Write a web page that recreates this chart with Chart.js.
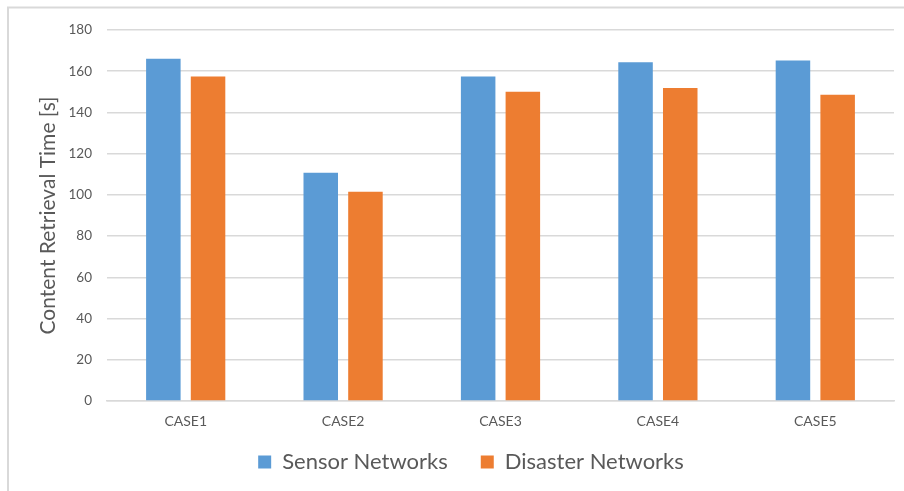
<!DOCTYPE html>
<html>
<head>
<meta charset="utf-8">
<script src="https://cdn.jsdelivr.net/npm/chart.js@4.4.1/dist/chart.umd.min.js"></script>
<style>
  html, body { margin: 0; padding: 0; background: #ffffff; }
  #wrap { width: 904px; height: 491px; position: relative; }
</style>
</head>
<body>
<div id="wrap"><canvas id="chart" width="904" height="491"></canvas></div>
<script>
// Chart data
const categories = ['CASE1', 'CASE2', 'CASE3', 'CASE4', 'CASE5'];
const sensorNetworks = [166, 110.7, 157.4, 164.3, 165.2];
const disasterNetworks = [157.5, 101.5, 150, 151.9, 148.6];
const seriesNames = ['Sensor Networks', 'Disaster Networks'];
const yTitle = 'Content Retrieval Time [s]';

const TEXT = '#595959';
const GRID = '#d9d9d9';
const FONT = 'Lato, "Open Sans", sans-serif';
const LEGEND_PAD = 33;
const LEGEND_FONT = 22;

// light frame around the chart on its left and top edges
const framePlugin = {
  id: 'frame',
  beforeDraw(chart) {
    const ctx = chart.ctx;
    ctx.save();
    ctx.fillStyle = '#ffffff';
    ctx.fillRect(0, 0, chart.width, chart.height);
    ctx.strokeStyle = GRID;
    ctx.lineWidth = 2;
    ctx.beginPath();
    ctx.moveTo(8, chart.height);
    ctx.lineTo(8, 7.5);
    ctx.lineTo(chart.width, 7.5);
    ctx.stroke();
    ctx.restore();
  }
};

// pull the legend row up, closer to the category labels
const legendShift = {
  id: 'legendShift',
  afterLayout(chart) {
    const lg = chart.legend;
    if (!lg) return;
    const wantedTop = 462 - LEGEND_PAD - LEGEND_FONT / 2;
    const dy = lg.top - wantedTop;
    lg.top -= dy;
    lg.bottom -= dy;
  }
};

new Chart(document.getElementById('chart'), {
  type: 'bar',
  data: {
    labels: categories,
    datasets: [
      { label: seriesNames[0], data: sensorNetworks, backgroundColor: '#5b9bd5' },
      { label: seriesNames[1], data: disasterNetworks, backgroundColor: '#ed7d31' }
    ]
  },
  options: {
    responsive: false,
    animation: false,
    events: [],
    categoryPercentage: 0.568,
    barPercentage: 0.772,
    layout: { padding: { left: 48, right: 10, top: 30, bottom: -6 } },
    scales: {
      x: {
        grid: { display: false, drawTicks: false },
        border: { display: true, color: GRID, width: 1.5 },
        ticks: { color: TEXT, font: { family: FONT, size: 14 }, padding: 12 },
        afterFit(scale) { scale.height = 31; }
      },
      y: {
        min: 0,
        max: 180,
        grid: { color: GRID, lineWidth: 1.5, drawTicks: false },
        border: { display: false },
        ticks: { stepSize: 20, color: TEXT, font: { family: FONT, size: 13.5 }, padding: 15 },
        title: {
          display: true,
          text: yTitle,
          color: TEXT,
          font: { family: FONT, size: 21 },
          padding: { top: -12, bottom: 0 }
        },
        afterFit(scale) { scale.width = 59; }
      }
    },
    plugins: {
      legend: {
        position: 'bottom',
        labels: {
          color: TEXT,
          font: { family: FONT, size: LEGEND_FONT },
          boxWidth: 13,
          boxHeight: 13,
          padding: LEGEND_PAD
        }
      },
      tooltip: { enabled: false }
    }
  },
  plugins: [framePlugin, legendShift]
});
</script>
</body>
</html>
